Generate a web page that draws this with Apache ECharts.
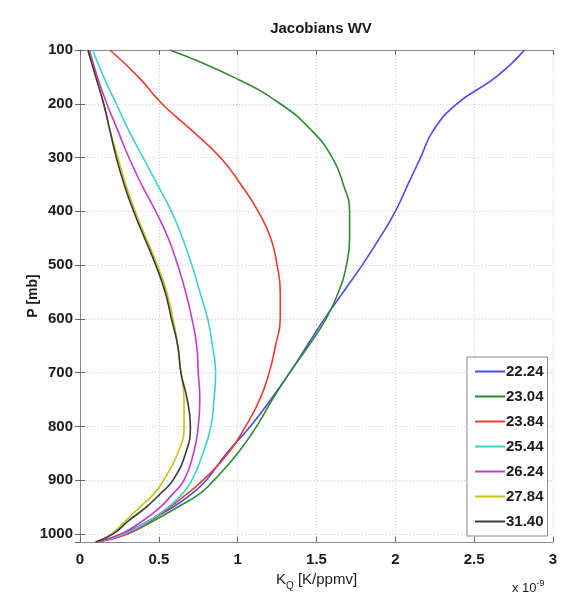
<!DOCTYPE html>
<html>
<head>
<meta charset="utf-8">
<title>Jacobians WV</title>
<script src="https://cdn.jsdelivr.net/npm/echarts@6/dist/echarts.min.js"></script>
<style>
  html, body { margin: 0; padding: 0; background: #fff; }
  #chart { width: 568px; height: 599px; }
</style>
</head>
<body>
<div id="chart"></div>
<script>
// pressure levels (mb)
const pressure = [100, 150, 200, 250, 300, 350, 400, 450, 500, 550, 600, 650, 700, 750, 800, 850, 900, 925, 950, 975, 1000, 1015];

// Jacobians, x 1e-9 K/ppmv
const k2224 = [2.82, 2.64, 2.39, 2.24, 2.16, 2.08, 2.00, 1.90, 1.79, 1.67, 1.55, 1.44, 1.33, 1.21, 1.08, 0.93, 0.80, 0.71, 0.59, 0.44, 0.27, 0.10];
const k2304 = [0.57, 0.97, 1.27, 1.47, 1.60, 1.67, 1.71, 1.71, 1.69, 1.64, 1.56, 1.45, 1.33, 1.22, 1.12, 1.00, 0.85, 0.76, 0.62, 0.47, 0.30, 0.10];
const k2384 = [0.19, 0.37, 0.52, 0.71, 0.89, 1.02, 1.13, 1.21, 1.25, 1.27, 1.27, 1.24, 1.20, 1.14, 1.05, 0.94, 0.78, 0.68, 0.57, 0.45, 0.30, 0.10];
const k2544 = [0.08, 0.15, 0.23, 0.31, 0.40, 0.49, 0.58, 0.65, 0.71, 0.76, 0.81, 0.84, 0.86, 0.85, 0.83, 0.78, 0.71, 0.65, 0.56, 0.44, 0.28, 0.10];
const k2624 = [0.06, 0.11, 0.17, 0.24, 0.31, 0.39, 0.48, 0.56, 0.62, 0.67, 0.71, 0.74, 0.75, 0.76, 0.75, 0.72, 0.66, 0.59, 0.51, 0.40, 0.26, 0.10];
const k2784 = [0.05, 0.10, 0.15, 0.19, 0.24, 0.29, 0.35, 0.42, 0.49, 0.55, 0.59, 0.62, 0.64, 0.66, 0.66, 0.62, 0.53, 0.47, 0.38, 0.29, 0.20, 0.10];
const k3140 = [0.05, 0.10, 0.15, 0.19, 0.23, 0.28, 0.34, 0.41, 0.48, 0.54, 0.58, 0.62, 0.64, 0.68, 0.70, 0.67, 0.59, 0.51, 0.42, 0.31, 0.21, 0.10];

const channels = ['22.24', '23.04', '23.84', '25.44', '26.24', '27.84', '31.40'];
const colors = ['#4b4bec', '#2f8a2f', '#ee3a32', '#3fcfcf', '#c43dc8', '#c4c41c', '#3a3a3a'];
const values = [k2224, k2304, k2384, k2544, k2624, k2784, k3140];

const font = '"Liberation Sans Narrow", "Liberation Sans", Arial, sans-serif';

const chart = echarts.init(document.getElementById('chart'));

const gridLine = { show: true, lineStyle: { color: '#cfcfcf', type: [1, 2], width: 1 } };
const axLine = { show: true, lineStyle: { color: '#8a8a8a', width: 1 } };
const tick = { show: true, inside: true, length: 5, lineStyle: { color: '#666' } };
const labelStyle = { color: '#1a1a1a', fontFamily: font, fontWeight: 'bold', fontSize: 15 };

const option = {
  animation: false,
  title: {
    text: 'Jacobians WV',
    left: 316,
    textAlign: 'center',
    top: 16,
    textStyle: { fontFamily: font, fontWeight: 'bold', fontSize: 15, color: '#1a1a1a' }
  },
  grid: { left: 80, right: 15, top: 50, bottom: 57 },
  legend: {
    orient: 'vertical',
    left: 467,
    top: 357,
    padding: [7, 4, 7, 8],
    itemGap: 10,
    itemWidth: 30,
    itemHeight: 2,
    icon: 'rect',
    backgroundColor: '#fff',
    borderColor: '#888',
    borderWidth: 1,
    textStyle: { fontFamily: font, fontWeight: 'bold', fontSize: 15, color: '#1a1a1a', padding: [0, 0, 0, -4] },
    data: channels
  },
  xAxis: [{
    type: 'value',
    min: 0,
    max: 3,
    interval: 0.5,
    axisLine: axLine,
    axisTick: tick,
    splitLine: gridLine,
    axisLabel: Object.assign({ margin: 10, formatter: v => String(v) }, labelStyle),
    name: 'K{sub|Q} [K/ppmv]',
    nameLocation: 'middle',
    nameGap: 27,
    nameTextStyle: {
      fontFamily: font, fontSize: 15, color: '#1a1a1a',
      rich: { sub: { fontFamily: font, fontSize: 10, color: '#1a1a1a', verticalAlign: 'bottom', padding: [12, 0, 0, 0] } }
    }
  }, {
    type: 'value',
    position: 'top',
    min: 0,
    max: 3,
    interval: 0.5,
    axisLine: axLine,
    axisTick: tick,
    axisLabel: { show: false },
    splitLine: { show: false }
  }],
  yAxis: [{
    type: 'value',
    inverse: true,
    min: 100,
    max: 1015,
    interval: 100,
    axisLine: axLine,
    axisTick: tick,
    splitLine: gridLine,
    axisLabel: Object.assign({ margin: 7, showMaxLabel: false, formatter: v => String(v) }, labelStyle),
    name: 'P [mb]',
    nameLocation: 'middle',
    nameGap: 40,
    nameMoveOverlap: false,
    nameRotate: 90,
    nameTextStyle: { fontFamily: font, fontWeight: 'bold', fontSize: 14, color: '#1a1a1a' }
  }, {
    type: 'value',
    position: 'right',
    inverse: true,
    min: 100,
    max: 1015,
    interval: 100,
    axisLine: axLine,
    axisTick: tick,
    axisLabel: { show: false },
    splitLine: { show: false }
  }],
  graphic: [{
    type: 'text',
    left: 512,
    top: 579,
    style: {
      text: 'x 10{sup|-9}',
      font: '13px ' + font,
      fill: '#1a1a1a',
      rich: { sup: { fontSize: 9, fontFamily: font, fill: '#1a1a1a', verticalAlign: 'top', padding: [0, 0, 10, 0] } }
    }
  }],
  series: channels.map((name, i) => ({
    name,
    type: 'line',
    showSymbol: false,
    smooth: 0.5,
    color: colors[i],
    lineStyle: { width: 1.6, color: colors[i] },
    data: pressure.map((p, j) => [values[i][j], p])
  }))
};

chart.setOption(option);
</script>
</body>
</html>
